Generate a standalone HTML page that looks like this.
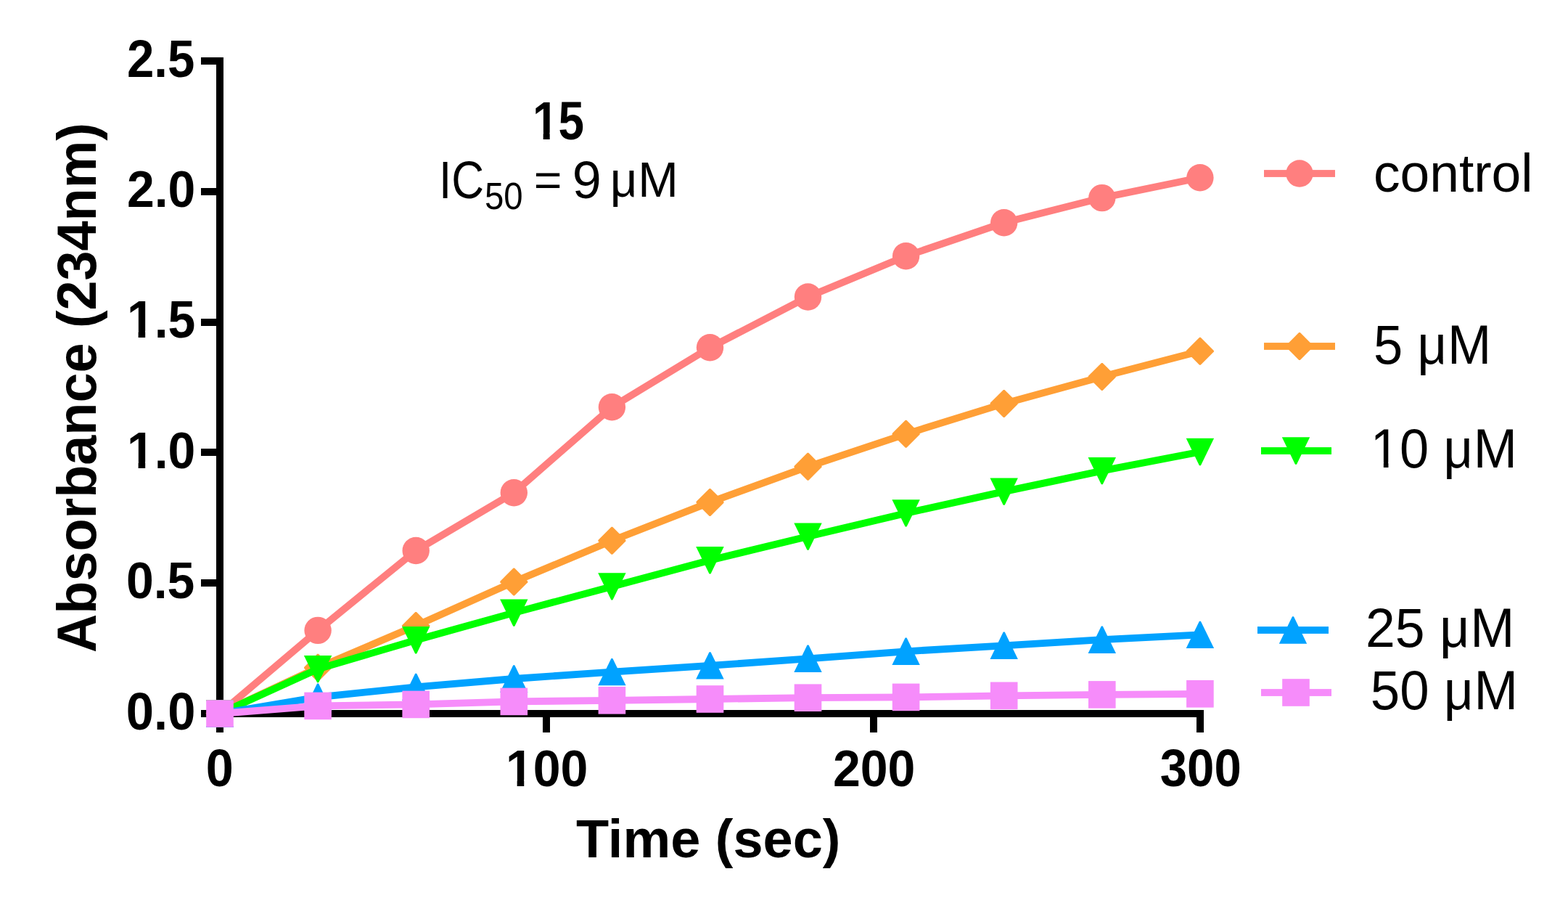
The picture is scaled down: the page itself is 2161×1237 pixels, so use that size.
<!DOCTYPE html>
<html><head><meta charset="utf-8"><style>
html,body{margin:0;padding:0;background:#fff;overflow:hidden;}
svg{display:block;}
.b{font-family:"Liberation Sans",Arial,sans-serif;font-weight:bold;fill:#000;}
.r{font-family:"Liberation Sans",Arial,sans-serif;font-weight:normal;fill:#000;}
</style></head><body>
<svg width="2161" height="1237" viewBox="0 0 2161 1237">
<rect width="2161" height="1237" fill="#fff"/>
<rect x="298" y="79" width="10" height="930" fill="#000"/>
<rect x="298" y="978" width="1361" height="10" fill="#000"/>
<rect x="277" y="79" width="21" height="10" fill="#000"/>
<rect x="277" y="259" width="21" height="10" fill="#000"/>
<rect x="277" y="439" width="21" height="10" fill="#000"/>
<rect x="277" y="618" width="21" height="10" fill="#000"/>
<rect x="277" y="798" width="21" height="10" fill="#000"/>
<rect x="277" y="978" width="21" height="10" fill="#000"/>
<text transform="matrix(1.0035,0,0,1.0564,173.86,1005.00)" class="b" font-size="68.5">0.0</text>
<text transform="matrix(0.9922,0,0,1.0348,173.90,824.00)" class="b" font-size="68.5">0.5</text>
<g transform="matrix(0.9920,0,0,1.0348,174.89,645.00)"><text class="b" font-size="68.5">1.0</text><rect x="2.71" y="-8.59" width="13.15" height="10.19" fill="#fff"/><rect x="25.51" y="-8.59" width="12.28" height="10.19" fill="#fff"/></g>
<g transform="matrix(0.9920,0,0,1.0555,174.89,465.00)"><text class="b" font-size="68.5">1.5</text><rect x="2.71" y="-8.59" width="13.15" height="10.19" fill="#fff"/><rect x="25.51" y="-8.59" width="12.28" height="10.19" fill="#fff"/></g>
<text transform="matrix(0.9922,0,0,1.0348,174.90,285.00)" class="b" font-size="68.5">2.0</text>
<text transform="matrix(0.9813,0,0,1.0579,174.90,105.90)" class="b" font-size="68.5">2.5</text>
<rect x="298" y="988" width="10" height="21" fill="#000"/>
<rect x="748" y="988" width="10" height="21" fill="#000"/>
<rect x="1199" y="988" width="10" height="21" fill="#000"/>
<rect x="1649" y="988" width="10" height="21" fill="#000"/>
<text transform="matrix(0.9972,0,0,1.0515,283.77,1082.80)" class="b" font-size="68.5">0</text>
<g transform="matrix(0.9934,0,0,1.0287,696.90,1082.90)"><text class="b" font-size="68.5">100</text><rect x="2.71" y="-8.59" width="13.15" height="10.19" fill="#fff"/><rect x="25.51" y="-8.59" width="12.28" height="10.19" fill="#fff"/></g>
<text transform="matrix(0.9936,0,0,1.0287,1147.90,1082.90)" class="b" font-size="68.5">200</text>
<text transform="matrix(0.9808,0,0,1.0627,1598.69,1083.20)" class="b" font-size="68.5">300</text>
<polyline points="303.0,983.0 438.1,868.4 573.2,758.5 708.3,678.7 843.4,560.8 978.5,478.8 1113.5,409.0 1248.6,352.8 1383.7,306.8 1518.8,272.6 1653.9,244.8" fill="none" stroke="#FF7F7F" stroke-width="9.8" stroke-linejoin="miter"/>
<circle cx="303.0" cy="983.0" r="18.7" fill="#FF7F7F"/>
<circle cx="438.1" cy="868.4" r="18.7" fill="#FF7F7F"/>
<circle cx="573.2" cy="758.5" r="18.7" fill="#FF7F7F"/>
<circle cx="708.3" cy="678.7" r="18.7" fill="#FF7F7F"/>
<circle cx="843.4" cy="560.8" r="18.7" fill="#FF7F7F"/>
<circle cx="978.5" cy="478.8" r="18.7" fill="#FF7F7F"/>
<circle cx="1113.5" cy="409.0" r="18.7" fill="#FF7F7F"/>
<circle cx="1248.6" cy="352.8" r="18.7" fill="#FF7F7F"/>
<circle cx="1383.7" cy="306.8" r="18.7" fill="#FF7F7F"/>
<circle cx="1518.8" cy="272.6" r="18.7" fill="#FF7F7F"/>
<circle cx="1653.9" cy="244.8" r="18.7" fill="#FF7F7F"/>
<polyline points="303.0,983.0 438.1,919.7 573.2,862.0 708.3,801.5 843.4,744.8 978.5,691.9 1113.5,642.8 1248.6,597.8 1383.7,555.9 1518.8,518.9 1653.9,483.8" fill="none" stroke="#FF9F36" stroke-width="9.8" stroke-linejoin="miter"/>
<polygon points="302.2,964.0 303.8,964.0 322.0,982.2 322.0,983.8 303.8,1002.0 302.2,1002.0 284.0,983.8 284.0,982.2" fill="#FF9F36"/>
<polygon points="437.3,900.7 438.9,900.7 457.1,918.9 457.1,920.5 438.9,938.7 437.3,938.7 419.1,920.5 419.1,918.9" fill="#FF9F36"/>
<polygon points="572.4,843.0 574.0,843.0 592.2,861.2 592.2,862.8 574.0,881.0 572.4,881.0 554.2,862.8 554.2,861.2" fill="#FF9F36"/>
<polygon points="707.5,782.5 709.1,782.5 727.3,800.7 727.3,802.3 709.1,820.5 707.5,820.5 689.3,802.3 689.3,800.7" fill="#FF9F36"/>
<polygon points="842.6,725.8 844.2,725.8 862.4,744.0 862.4,745.6 844.2,763.8 842.6,763.8 824.4,745.6 824.4,744.0" fill="#FF9F36"/>
<polygon points="977.7,672.9 979.2,672.9 997.5,691.1 997.5,692.7 979.2,710.9 977.7,710.9 959.5,692.7 959.5,691.1" fill="#FF9F36"/>
<polygon points="1112.7,623.8 1114.3,623.8 1132.5,642.0 1132.5,643.6 1114.3,661.8 1112.7,661.8 1094.5,643.6 1094.5,642.0" fill="#FF9F36"/>
<polygon points="1247.8,578.8 1249.4,578.8 1267.6,597.0 1267.6,598.6 1249.4,616.8 1247.8,616.8 1229.6,598.6 1229.6,597.0" fill="#FF9F36"/>
<polygon points="1382.9,536.9 1384.5,536.9 1402.7,555.1 1402.7,556.7 1384.5,574.9 1382.9,574.9 1364.7,556.7 1364.7,555.1" fill="#FF9F36"/>
<polygon points="1518.0,499.9 1519.6,499.9 1537.8,518.1 1537.8,519.7 1519.6,537.9 1518.0,537.9 1499.8,519.7 1499.8,518.1" fill="#FF9F36"/>
<polygon points="1653.1,464.8 1654.7,464.8 1672.9,483.0 1672.9,484.6 1654.7,502.8 1653.1,502.8 1634.9,484.6 1634.9,483.0" fill="#FF9F36"/>
<polyline points="303.0,983.0 438.1,921.6 573.2,881.8 708.3,844.1 843.4,807.9 978.5,771.7 1113.5,739.1 1248.6,706.9 1383.7,677.1 1518.8,648.6 1653.9,622.5" fill="none" stroke="#00FF00" stroke-width="9.8" stroke-linejoin="miter"/>
<polygon points="283.8,964.3 322.2,964.3 304.0,1001.7 302.0,1001.7" fill="#00FF00"/>
<polygon points="418.9,902.9 457.3,902.9 439.1,940.3 437.1,940.3" fill="#00FF00"/>
<polygon points="554.0,863.1 592.4,863.1 574.2,900.5 572.2,900.5" fill="#00FF00"/>
<polygon points="689.1,825.4 727.5,825.4 709.3,862.8 707.3,862.8" fill="#00FF00"/>
<polygon points="824.2,789.2 862.6,789.2 844.4,826.6 842.4,826.6" fill="#00FF00"/>
<polygon points="959.2,753.0 997.7,753.0 979.5,790.4 977.5,790.4" fill="#00FF00"/>
<polygon points="1094.3,720.4 1132.7,720.4 1114.5,757.8 1112.5,757.8" fill="#00FF00"/>
<polygon points="1229.4,688.2 1267.8,688.2 1249.6,725.6 1247.6,725.6" fill="#00FF00"/>
<polygon points="1364.5,658.4 1402.9,658.4 1384.7,695.8 1382.7,695.8" fill="#00FF00"/>
<polygon points="1499.6,629.9 1538.0,629.9 1519.8,667.3 1517.8,667.3" fill="#00FF00"/>
<polygon points="1634.7,603.8 1673.1,603.8 1654.9,641.2 1652.9,641.2" fill="#00FF00"/>
<polyline points="303.0,983.0 438.1,960.3 573.2,946.4 708.3,935.0 843.4,925.6 978.5,916.9 1113.5,907.3 1248.6,897.3 1383.7,889.3 1518.8,881.2 1653.9,874.4" fill="none" stroke="#00A2FF" stroke-width="9.8" stroke-linejoin="miter"/>
<polygon points="283.8,1001.7 322.2,1001.7 304.0,964.3 302.0,964.3" fill="#00A2FF"/>
<polygon points="418.9,979.0 457.3,979.0 439.1,941.6 437.1,941.6" fill="#00A2FF"/>
<polygon points="554.0,965.1 592.4,965.1 574.2,927.7 572.2,927.7" fill="#00A2FF"/>
<polygon points="689.1,953.7 727.5,953.7 709.3,916.3 707.3,916.3" fill="#00A2FF"/>
<polygon points="824.2,944.3 862.6,944.3 844.4,906.9 842.4,906.9" fill="#00A2FF"/>
<polygon points="959.2,935.6 997.7,935.6 979.5,898.2 977.5,898.2" fill="#00A2FF"/>
<polygon points="1094.3,926.0 1132.7,926.0 1114.5,888.6 1112.5,888.6" fill="#00A2FF"/>
<polygon points="1229.4,916.0 1267.8,916.0 1249.6,878.6 1247.6,878.6" fill="#00A2FF"/>
<polygon points="1364.5,908.0 1402.9,908.0 1384.7,870.6 1382.7,870.6" fill="#00A2FF"/>
<polygon points="1499.6,899.9 1538.0,899.9 1519.8,862.5 1517.8,862.5" fill="#00A2FF"/>
<polygon points="1634.7,893.1 1673.1,893.1 1654.9,855.7 1652.9,855.7" fill="#00A2FF"/>
<polyline points="303.0,983.0 438.1,972.4 573.2,970.4 708.3,966.4 843.4,964.8 978.5,963.0 1113.5,961.2 1248.6,960.4 1383.7,958.3 1518.8,956.9 1653.9,955.8" fill="none" stroke="#F68CFA" stroke-width="9.8" stroke-linejoin="miter"/>
<rect x="284.2" y="964.2" width="37.6" height="37.6" fill="#F68CFA"/>
<rect x="419.3" y="953.6" width="37.6" height="37.6" fill="#F68CFA"/>
<rect x="554.4" y="951.6" width="37.6" height="37.6" fill="#F68CFA"/>
<rect x="689.5" y="947.6" width="37.6" height="37.6" fill="#F68CFA"/>
<rect x="824.6" y="946.0" width="37.6" height="37.6" fill="#F68CFA"/>
<rect x="959.7" y="944.2" width="37.6" height="37.6" fill="#F68CFA"/>
<rect x="1094.7" y="942.4" width="37.6" height="37.6" fill="#F68CFA"/>
<rect x="1229.8" y="941.6" width="37.6" height="37.6" fill="#F68CFA"/>
<rect x="1364.9" y="939.5" width="37.6" height="37.6" fill="#F68CFA"/>
<rect x="1500.0" y="938.1" width="37.6" height="37.6" fill="#F68CFA"/>
<rect x="1635.1" y="937.0" width="37.6" height="37.6" fill="#F68CFA"/>
<rect x="1742" y="234.1" width="98" height="9.8" fill="#FF7F7F"/>
<circle cx="1791.0" cy="239.0" r="18.7" fill="#FF7F7F"/>
<rect x="1742" y="472.1" width="98" height="9.8" fill="#FF9F36"/>
<polygon points="1790.2,458.0 1791.8,458.0 1810.0,476.2 1810.0,477.8 1791.8,496.0 1790.2,496.0 1772.0,477.8 1772.0,476.2" fill="#FF9F36"/>
<rect x="1738" y="616.1" width="97" height="9.8" fill="#00FF00"/>
<polygon points="1766.8,602.3 1805.2,602.3 1787.0,639.7 1785.0,639.7" fill="#00FF00"/>
<rect x="1733" y="863.1" width="98" height="9.8" fill="#00A2FF"/>
<polygon points="1762.8,886.7 1801.2,886.7 1783.0,849.3 1781.0,849.3" fill="#00A2FF"/>
<rect x="1738" y="949.1" width="97" height="9.8" fill="#F68CFA"/>
<rect x="1767.2" y="935.2" width="37.6" height="37.6" fill="#F68CFA"/>
<text transform="matrix(0.9693,0,0,0.9771,1892.91,263.92)" class="r" font-size="75.5">control</text>
<g transform="matrix(0.9581,0,0,1.0105,1893.00,501.05)"><text class="r" font-size="75.5">5 µM</text><rect x="99.86" y="-7.37" width="6.47" height="9.71" fill="#fff"/></g>
<g transform="matrix(0.9561,0,0,1.0087,1888.80,643.85)"><text class="r" font-size="75.5">10 µM</text><rect x="4.15" y="-7.24" width="14.71" height="8.84" fill="#fff"/><rect x="25.78" y="-7.24" width="14.12" height="8.84" fill="#fff"/><rect x="141.86" y="-7.37" width="6.47" height="9.71" fill="#fff"/></g>
<g transform="matrix(0.9716,0,0,1.0087,1882.00,890.95)"><text class="r" font-size="75.5">25 µM</text><rect x="141.86" y="-7.37" width="6.47" height="9.71" fill="#fff"/></g>
<g transform="matrix(0.9619,0,0,1.0165,1888.80,977.42)"><text class="r" font-size="75.5">50 µM</text><rect x="141.86" y="-7.37" width="6.47" height="9.71" fill="#fff"/></g>
<g transform="matrix(0.9320,0,0,1.0702,733.89,191.90)"><text class="b" font-size="68.5">15</text><rect x="2.71" y="-8.59" width="13.15" height="10.19" fill="#fff"/><rect x="25.51" y="-8.59" width="12.28" height="10.19" fill="#fff"/></g>
<text transform="matrix(0.9054,0,0,1.0452,604.99,272.60)" class="r" font-size="68.5">IC</text>
<text transform="matrix(0.9667,0,0,1.0614,668.00,287.90)" class="r" font-size="49">50</text>
<text transform="matrix(0.9679,0,0,0.9275,735.87,269.80)" class="r" font-size="68.5">=</text>
<text transform="matrix(1.0501,0,0,1.0443,788.78,272.90)" class="r" font-size="68.5">9</text>
<g transform="matrix(0.9734,0,0,1.0125,840.85,271.46)"><text class="r" font-size="68.5">µM</text><rect x="33.48" y="-6.69" width="6.02" height="8.96" fill="#fff"/></g>
<text transform="matrix(0.9863,0,0,0.9957,794.00,1180.82)" class="b" font-size="75">Time (sec)</text>
<text transform="translate(132.05,898.90) rotate(-90) scale(0.9837,1.0093)" class="b" font-size="75">Absorbance (234nm)</text>
</svg>
</body></html>
